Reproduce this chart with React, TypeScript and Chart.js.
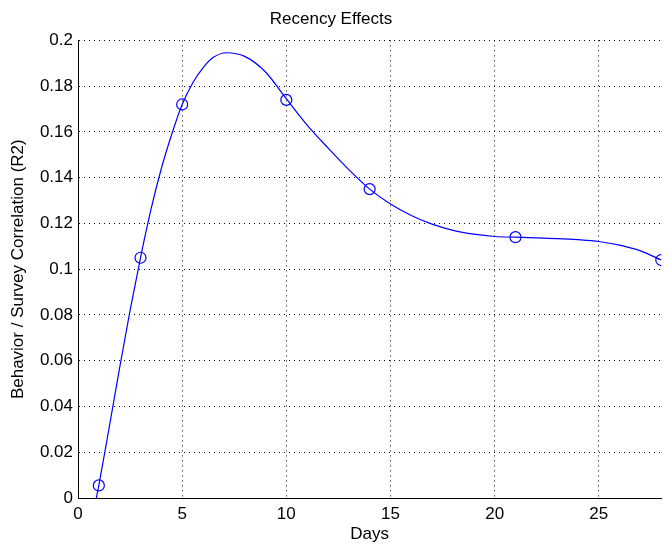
import React, { useEffect, useRef } from "react";
import { Chart, registerables } from "chart.js";

Chart.register(...registerables);

// Measured data points (circles)
const days = [1, 3, 5, 10, 14, 21, 28];
const r2 = [0.0055, 0.105, 0.172, 0.174, 0.135, 0.114, 0.104];

// Points
const curveX = [0.88, 1, 1.5, 2, 2.5, 3, 3.5, 4, 4.5, 5, 5.5, 6, 6.5, 7.13, 8, 9, 10, 11, 12, 13, 14, 15, 16, 17, 18, 19, 20, 21, 22, 23, 24, 25, 26, 27, 28];
const curveY = [0, 0.0055, 0.031, 0.057, 0.082, 0.105, 0.126, 0.144, 0.159, 0.172, 0.1813, 0.188, 0.1926, 0.1946, 0.193, 0.1862, 0.1745, 0.163, 0.153, 0.1435, 0.135, 0.1285, 0.1235, 0.1197, 0.117, 0.1153, 0.1143, 0.114, 0.1137, 0.1134, 0.1129, 0.1121, 0.1105, 0.108, 0.104];

const xTicks = [0, 5, 10, 15, 20, 25];
const yTicks = [0, 0.02, 0.04, 0.06, 0.08, 0.1, 0.12, 0.14, 0.16, 0.18, 0.2];

const titleText = "Recency Effects";
const xTitle = "Days";
const yTitle = "Behavior / Survey Correlation (R2)";

const FONT = "'Liberation Sans', Arial, Helvetica, sans-serif";

export default function App() {
  const ref = useRef<HTMLCanvasElement>(null);

  useEffect(() => {
    document.body.style.margin = "0";
    const canvas = ref.current;
    if (!canvas) return;
    const chart = new Chart(canvas, {
      type: "scatter",
      data: {
        datasets: [
          {
            label: "markers",
            data: days.map((d, i) => ({ x: d, y: r2[i] })),
            showLine: false,
            pointStyle: "circle",
            pointRadius: 5.5,
            pointHoverRadius: 5.5,
            pointBorderWidth: 1.2,
            pointBorderColor: "#0000ff",
            pointBackgroundColor: "rgba(0,0,0,0)",
            order: 0,
          },
          {
            label: "curve",
            data: curveX.map((d, i) => ({ x: d, y: curveY[i] })),
            showLine: true,
            cubicInterpolationMode: "monotone",
            borderColor: "#0000ff",
            borderWidth: 1.2,
            pointRadius: 0,
            pointHoverRadius: 0,
            order: 1,
          },
        ],
      },
      options: {
        responsive: false,
        animation: false,
        layout: { padding: { left: 0, right: 6, top: 0, bottom: 0 } },
        plugins: {
          legend: { display: false },
          tooltip: { enabled: false },
          title: {
            display: true,
            text: titleText,
            color: "#000",
            font: { family: FONT, size: 17, weight: "normal" },
            padding: { top: 9, bottom: 11 },
          },
        },
        scales: {
          x: {
            type: "linear",
            min: 0,
            max: 28,
            afterBuildTicks: (s: any) => {
              s.ticks = xTicks.map((v) => ({ value: v }));
            },
            afterFit: (s: any) => {
              s.height = 48;
            },
            grid: { color: "#000", lineWidth: 1, drawTicks: false },
            border: { display: true, color: "#000", width: 1, dash: [1, 4] },
            ticks: {
              color: "#000",
              font: { family: FONT, size: 17 },
              padding: 6,
              callback: (v: any) => String(v),
            },
            title: {
              display: true,
              text: xTitle,
              color: "#000",
              font: { family: FONT, size: 17 },
              padding: { top: 0, bottom: 1 },
            },
          },
          y: {
            type: "linear",
            min: 0,
            max: 0.2,
            afterBuildTicks: (s: any) => {
              s.ticks = yTicks.map((v) => ({ value: v }));
            },
            afterFit: (s: any) => {
              s.width = 78;
            },
            grid: { color: "#000", lineWidth: 1, drawTicks: false },
            border: { display: true, color: "#000", width: 1, dash: [1, 4] },
            ticks: {
              color: "#000",
              font: { family: FONT, size: 17 },
              padding: 5,
              callback: (v: any) => String(v),
            },
            title: {
              display: true,
              text: yTitle,
              color: "#000",
              font: { family: FONT, size: 17 },
              padding: { top: 8, bottom: 0 },
            },
          },
        },
      },
    });
    return () => chart.destroy();
  }, []);

  return <canvas ref={ref} width={668} height={546} style={{ display: "block" }} />;
}
